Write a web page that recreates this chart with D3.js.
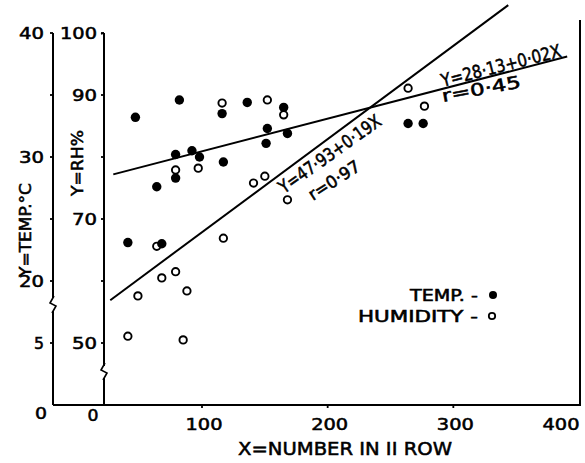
<!DOCTYPE html>
<html><head><meta charset="utf-8">
<script src="https://cdn.jsdelivr.net/npm/d3@7"></script>
<style>
body{margin:0;background:#fff}
text{font-family:'DejaVu Sans',sans-serif;fill:#000;stroke:#000;stroke-width:0.55px}
</style>
</head><body>
<svg id="c" width="585" height="463"></svg>
<script>
// ---- data ----
const tempX = [47, 82, 116, 136, 165, 152, 151, 168, 79, 92, 98, 117, 64, 79, 41, 68, 264, 276];
const tempY = [33.2, 34.6, 33.5, 34.4, 34.0, 32.3, 31.1, 31.9, 30.2, 30.5, 30.0, 29.6, 27.6, 28.3, 23.1, 23.0, 32.7, 32.7];
const humX = [116, 152, 165, 79, 97, 141, 150, 168, 64, 117, 49, 68, 79, 88, 41, 85, 264, 277];
const humY = [88.7, 89.2, 86.8, 77.9, 78.2, 75.8, 76.9, 73.1, 65.6, 66.9, 57.6, 60.5, 61.5, 58.4, 51.1, 50.5, 91.1, 88.2];
// fitted lines as drawn (end points)
const tempFitX = [29.4, 390.6];
const tempFitY = [28.6, 38.1];
const humFitX = [27, 343.7];
const humFitY = [56.9, 104.5];
// ticks
const xTicks = [100, 200, 300, 400];
const tempTicks = [40, 35, 30, 25, 20, 5];
const tempLabels = [40, 30, 20, 5];
const rhTicks = [100, 90, 80, 70, 60, 50];
const rhLabels = [100, 90, 70, 50];
const tempEq = "Y=28·13+0·02X", tempR = "r=0·45";
const humEq = "Y=47·93+0·19X", humR = "r=0·97";

// ---- scales ----
const x = d3.scaleLinear().domain([100, 400]).range([202, 579]);
const yT = d3.scaleLinear().domain([0, 5, 20, 40]).range([405, 343, 281, 33]);
const yH = d3.scaleLinear().domain([50, 100]).range([343, 33]);

const svg = d3.select("#c");
const axL = 53, axR = 104, axB = 405, axRight = 580;
const ink = "#000";

// ---- axes lines ----
const g = svg.append("g").attr("stroke", ink).attr("stroke-width", 2).attr("fill", "none");
g.append("path").attr("d", `M${axL},${yT(40)}V298 M${axL},311V${axB}`);
g.append("path").attr("stroke-width", 1.6).attr("d", `M${axL-1},313 L${axL+3},306 L${axL-3},303 L${axL+1},296`);
g.append("path").attr("d", `M${axR},${yH(100)}V366 M${axR},378V${axB}`);
g.append("path").attr("stroke-width", 1.6).attr("d", `M${axR-1},380 L${axR+3},373 L${axR-3},370 L${axR+1},363`);
g.append("path").attr("stroke-width", 1.5).attr("d", `M${axR-3},${yH(100)+1}L${axR},${yH(100)}`);
g.append("path").attr("d", `M${axL},${axB}H${axRight}V20`);

// ticks
const tk = svg.append("g").attr("stroke", ink).attr("stroke-width", 1.8);
tempTicks.forEach(t => tk.append("line").attr("x1", axL - 3).attr("x2", axL).attr("y1", yT(t)).attr("y2", yT(t)));
rhTicks.forEach(t => tk.append("line").attr("x1", axR - 3).attr("x2", axR).attr("y1", yH(t)).attr("y2", yH(t)));
xTicks.slice(0, 3).forEach(t => tk.append("line").attr("x1", x(t)).attr("x2", x(t)).attr("y1", axB).attr("y2", axB + 3));

// text helper: fits the text to a given width by a horizontal scale transform
function label(px, py, str, size, len, anchor, angle) {
  const t = svg.append("text").attr("font-size", size).attr("text-anchor", anchor || "start").text(str);
  let sx = 1;
  if (len) { const w = t.node().getComputedTextLength(); if (w > 0) sx = len / w; }
  t.attr("transform", `translate(${px},${py}) rotate(${angle || 0}) scale(${sx},1)`);
  return t;
}
// tick labels
tempLabels.forEach(t => label(44, yT(t) + 6, String(t), 16, t >= 10 ? 25 : 10, "end"));
label(47, 419, "0", 16, 12, "end");
rhLabels.forEach(t => label(97, yH(t) + 6, String(t), 16, t >= 100 ? 37 : 25, "end"));
xTicks.forEach(t => label(t === 400 ? 561 : x(t) + 2, 430, String(t), 16, 37, "middle"));
label(93, 421, "0", 16, 11, "middle");

// axis titles
label(345, 455, "X=NUMBER IN II ROW", 18, 214, "middle");
label(31, 230, "Y=TEMP.°C", 16, 94, "middle", -90);
label(83, 163, "Y=RH%", 16, 66, "middle", -90);

// ---- fitted lines ----
const lineT = d3.line().x(d => x(d[0])).y(d => yT(d[1]));
const lineH = d3.line().x(d => x(d[0])).y(d => yH(d[1]));
svg.append("path").attr("d", lineT(d3.zip(tempFitX, tempFitY))).attr("stroke", ink).attr("stroke-width", 2).attr("fill", "none");
svg.append("path").attr("d", lineH(d3.zip(humFitX, humFitY))).attr("stroke", ink).attr("stroke-width", 2).attr("fill", "none");

// ---- points ----
svg.append("g").selectAll("circle").data(d3.zip(humX, humY)).join("circle")
  .attr("cx", d => x(d[0])).attr("cy", d => yH(d[1])).attr("r", 3.7)
  .attr("fill", "#fff").attr("stroke", ink).attr("stroke-width", 1.9);
svg.append("g").selectAll("circle").data(d3.zip(tempX, tempY)).join("circle")
  .attr("cx", d => x(d[0])).attr("cy", d => yT(d[1])).attr("r", 4.7).attr("fill", ink);

// ---- equations ----
label(443, 87, tempEq, 18, 123, "start", -14.4);
label(443, 102, tempR, 17, 80, "start", -10.5);
label(284, 194, humEq, 18, 121, "start", -35.3);
label(313, 201, humR, 17, 58, "start", -33);

// ---- legend ----
label(410, 301, "TEMP. -", 15, 68, "start");
label(358, 322, "HUMIDITY -", 15, 120, "start");
svg.append("circle").attr("cx", 493).attr("cy", 295).attr("r", 4).attr("fill", ink);
svg.append("circle").attr("cx", 492).attr("cy", 316).attr("r", 3.2).attr("fill", "#fff").attr("stroke", ink).attr("stroke-width", 1.8);
</script>
</body></html>
